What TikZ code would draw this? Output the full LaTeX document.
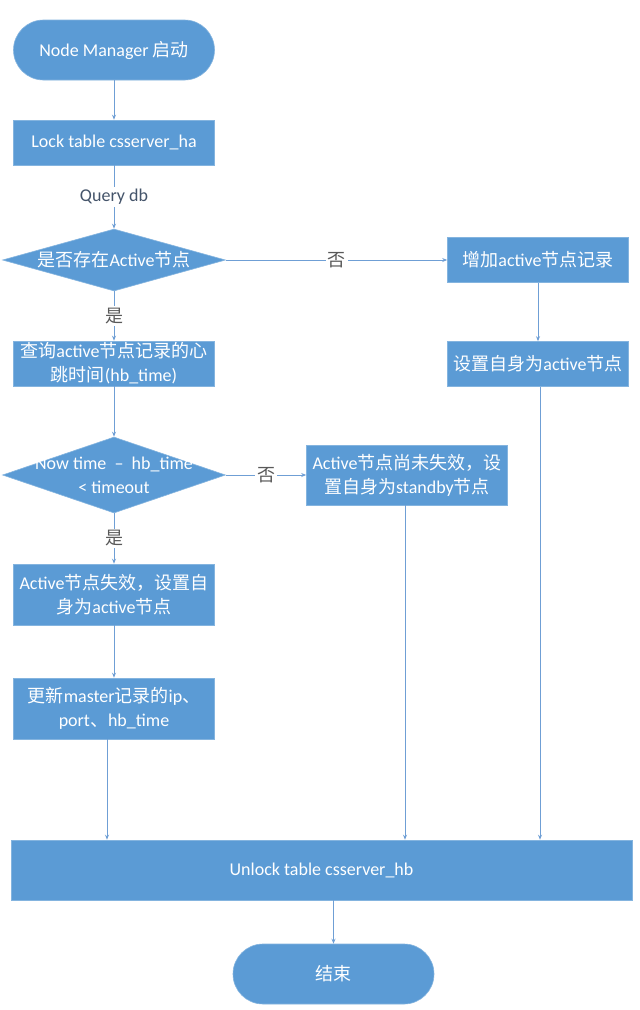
\documentclass[tikz,border=0pt]{standalone}
\usepackage{fontspec}
\setmainfont{Carlito}
\newfontfamily\cjk{Noto Sans CJK SC}
\usetikzlibrary{shapes.geometric,arrows.meta}
\definecolor{boxblue}{HTML}{5B9BD5}
\definecolor{lineblue}{HTML}{6F9FD5}
\definecolor{lblslate}{HTML}{44546A}
\definecolor{lblgray}{HTML}{595959}
\newcommand{\zh}[1]{{\cjk #1}}

\tikzset{
	box/.style={rectangle, fill=boxblue, draw=boxblue!75, line width=0.6pt, text=white,
		minimum width=201pt, minimum height=45pt, inner sep=0pt, align=center,
		font=\fontsize{18}{24}\selectfont},
	term/.style={box, rounded corners=30pt, minimum height=60pt},
	decision/.style={diamond, fill=boxblue, draw=boxblue!75, line width=0.6pt,
		minimum width=223pt, minimum height=62pt, inner sep=0pt},
	dtext/.style={text=white, align=center, inner sep=0pt, font=\fontsize{18}{24}\selectfont},
	link/.style={draw=lineblue, line width=0.8pt, ->},
	lbl/.style={fill=white, inner sep=2pt, text=lblgray, font=\fontsize{18}{22}\selectfont},
}

\begin{document}
\begin{tikzpicture}[x=1pt, y=-1pt, >={Stealth[length=5pt,width=4pt]}]
	\useasboundingbox[fill=white] (0,0) rectangle (640,1010);

	% left column
	\node[term] (start) at (114,50) {Node Manager \zh{启动}};
	\node[box] (lock) at (114,142.5) {Lock table csserver\_ha};
	\node[decision] (q1) at (114,260) {};
	\node[dtext] (q1t) at (q1) {\zh{是否存在}Active\zh{节点}};
	\node[box] (query) at (114,363.5) {\zh{查询}active\zh{节点记录的心}\\\zh{跳时间}(hb\_time)};
	\node[decision, minimum height=76pt] (q2) at (114,475) {};
	\node[dtext] (q2t) at (q2) {Now time~ –~ hb\_time\\\textless{} timeout};
	\node[box, minimum height=61pt] (fail) at (114,594.5) {Active\zh{节点失效，设置自}\\\zh{身为}active\zh{节点}};
	\node[box, minimum height=61pt] (upd) at (114,708.5) {\zh{更新}master\zh{记录的}ip\zh{、}\\port\zh{、}hb\_time};

	% right side
	\node[box, minimum width=181pt] (add) at (538,260) {\zh{增加}active\zh{节点记录}};
	\node[box, minimum width=181pt] (setact) at (538,364) {\zh{设置自身为}active\zh{节点}};
	\node[box, minimum height=60pt] (standby) at (407,475) {Active\zh{节点尚未失效，设}\\\zh{置自身为}standby\zh{节点}};

	% bottom
	\node[box, minimum width=621pt, minimum height=60pt] (unlock) at (321.5,870) {Unlock table csserver\_hb};
	\node[term] (end) at (333.5,974) {\zh{结束}};

	% connectors
	\draw[link] (start) -- (lock);
	\draw[link] (lock) -- node[lbl, text=lblslate] {Query db} (q1);
	\draw[link] (q1) -- node[lbl] {\zh{是}} (query);
	\draw[link] (q1.east) -- node[lbl] {\zh{否}} (add.west);
	\draw[link] (add) -- (setact);
	\draw[link] ([xshift=2pt]setact.south) -- ([xshift=2pt]setact.south |- unlock.north);
	\draw[link] (query) -- (q2);
	\draw[link] (q2) -- node[lbl] {\zh{是}} (fail);
	\draw[link] (q2.east) -- node[lbl] {\zh{否}} (standby.west);
	\draw[link] (fail) -- (upd);
	\draw[link] ([xshift=-7pt]upd.south) -- ([xshift=-7pt]upd.south |- unlock.north);
	\draw[link] ([xshift=-2pt]standby.south) -- ([xshift=-2pt]standby.south |- unlock.north);
	\draw[link] (unlock.south -| end) -- (end);
\end{tikzpicture}
\end{document}
